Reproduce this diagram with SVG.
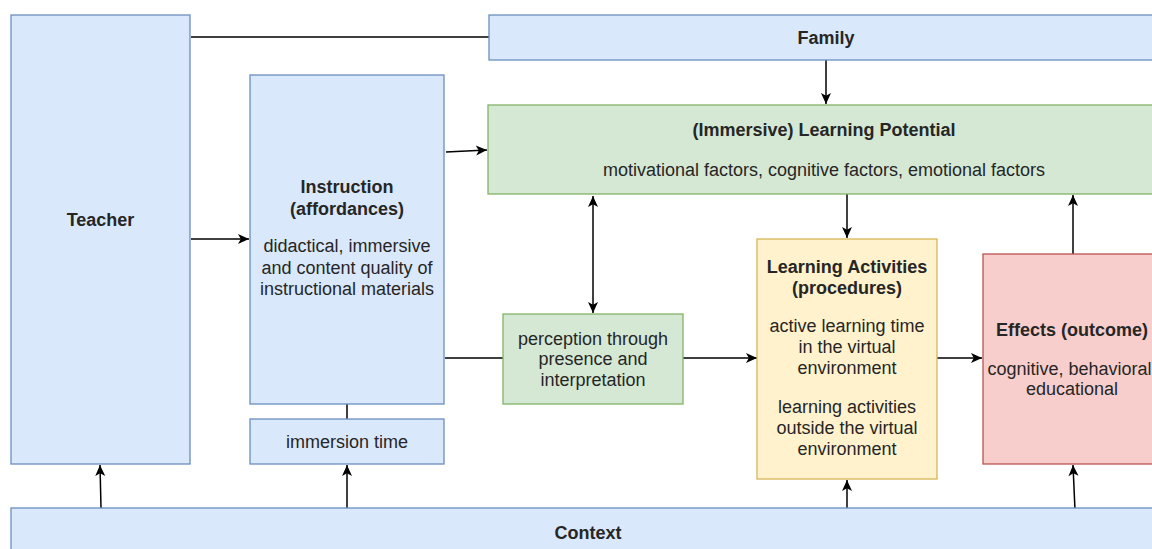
<svg xmlns="http://www.w3.org/2000/svg" width="1152" height="549" viewBox="0 0 1152 549">
<defs>
<marker id="arr" markerUnits="userSpaceOnUse" markerWidth="13" markerHeight="13" viewBox="0 0 13 13" refX="12" refY="6.5" orient="auto-start-reverse">
<path d="M1,1.5 L12,6.5 L1,11.5 L3.8,6.5 Z" fill="#000"/>
</marker>
<style>
.blue{fill:#dae8fc;stroke:#6c8ebf;stroke-width:1.3}
.green{fill:#d5e8d4;stroke:#82b366;stroke-width:1.3}
.yellow{fill:#fff2cc;stroke:#d6b656;stroke-width:1.3}
.red{fill:#f8cecc;stroke:#b85450;stroke-width:1.3}
text{font-family:"Liberation Sans",Arial,sans-serif;font-size:18px;fill:#262626;text-anchor:middle;dominant-baseline:central}
.b{font-weight:bold}
.c{stroke:#000;stroke-width:1.5;fill:none}
.a{marker-end:url(#arr)}
</style>
</defs>
<g id="connectors">
<line class="c" x1="191" y1="37" x2="489" y2="37"/>
<line class="c a" x1="826" y1="60" x2="826" y2="104"/>
<line class="c a" x1="446" y1="152" x2="487" y2="150"/>
<line class="c a" x1="191" y1="239" x2="249" y2="239"/>
<line class="c a" x1="593" y1="196" x2="593" y2="313" style="marker-start:url(#arr)"/>
<line class="c" x1="347" y1="404" x2="347" y2="419"/>
<line class="c" x1="445" y1="358" x2="503" y2="358"/>
<line class="c a" x1="683" y1="358" x2="757" y2="358"/>
<line class="c a" x1="847" y1="194" x2="847" y2="238"/>
<line class="c a" x1="937" y1="358" x2="982" y2="358"/>
<line class="c a" x1="1073" y1="254" x2="1073" y2="195"/>
<line class="c a" x1="101" y1="508" x2="100" y2="465"/>
<line class="c a" x1="347" y1="508" x2="347" y2="465"/>
<line class="c a" x1="847" y1="508" x2="847" y2="480"/>
<line class="c a" x1="1075" y1="510" x2="1073" y2="465"/>
</g>
<g id="teacher">
<rect class="blue" x="11" y="15" width="179" height="449"/>
<text class="b" x="100.5" y="220">Teacher</text>
</g>
<g id="family">
<rect class="blue" x="489" y="15" width="675" height="45"/>
<text class="b" x="826" y="38">Family</text>
</g>
<g id="instruction">
<rect class="blue" x="250" y="75" width="194" height="329"/>
<text class="b" x="347" y="187">Instruction</text>
<text class="b" x="347" y="209">(affordances)</text>
<text x="347" y="246">didactical, immersive</text>
<text x="347" y="268">and content quality of</text>
<text x="347" y="289">instructional materials</text>
</g>
<g id="immersion-time">
<rect class="blue" x="250" y="419" width="194" height="45"/>
<text x="347" y="442">immersion time</text>
</g>
<g id="learning-potential">
<rect class="green" x="488" y="105" width="673" height="89"/>
<text class="b" x="824" y="130">(Immersive) Learning Potential</text>
<text x="824" y="170">motivational factors, cognitive factors, emotional factors</text>
</g>
<g id="perception">
<rect class="green" x="503" y="314" width="180" height="90"/>
<text x="593" y="339">perception through</text>
<text x="593" y="359">presence and</text>
<text x="593" y="380">interpretation</text>
</g>
<g id="learning-activities">
<rect class="yellow" x="757" y="239" width="180" height="240"/>
<text class="b" x="847" y="267">Learning Activities</text>
<text class="b" x="847" y="288">(procedures)</text>
<text x="847" y="326">active learning time</text>
<text x="847" y="347">in the virtual</text>
<text x="847" y="368">environment</text>
<text x="847" y="407">learning activities</text>
<text x="847" y="428">outside the virtual</text>
<text x="847" y="449">environment</text>
</g>
<g id="effects">
<rect class="red" x="983" y="254" width="178" height="210"/>
<text class="b" x="1072" y="330">Effects (outcome)</text>
<text x="1072" y="369">cognitive, behavioral,</text>
<text x="1072" y="389">educational</text>
</g>
<g id="context">
<rect class="blue" x="11" y="508" width="1154" height="50"/>
<text class="b" x="588" y="533">Context</text>
</g>
</svg>
